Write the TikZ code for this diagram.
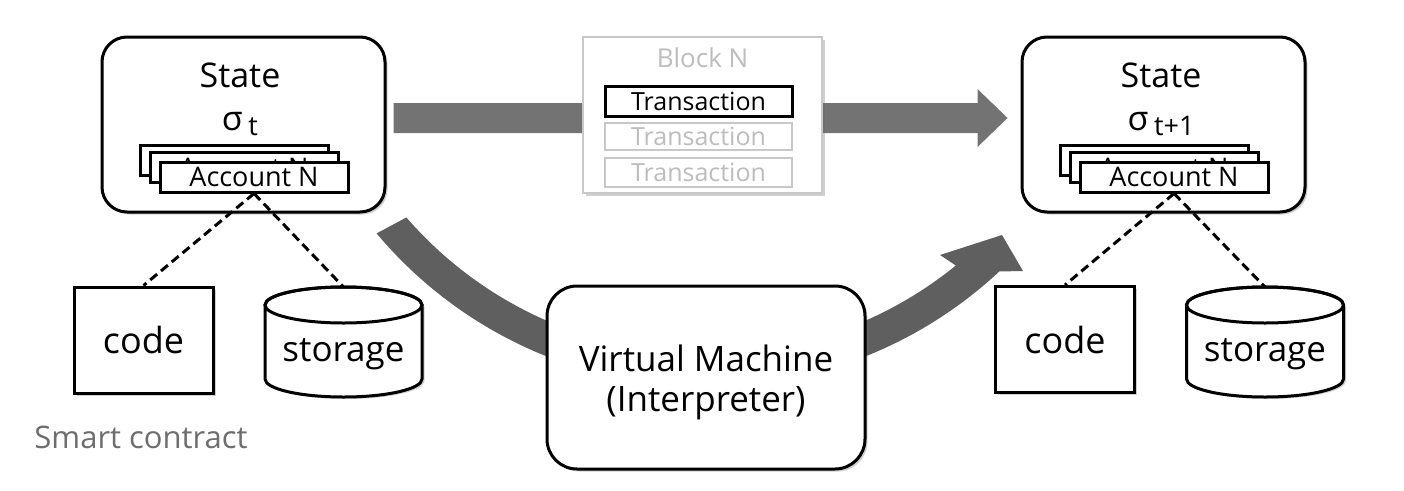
\documentclass[tikz,border=0pt]{standalone}
\usepackage{fontspec}
\setmainfont{Open Sans}
\usetikzlibrary{calc,shadows}
\definecolor{arrowA}{HTML}{737373}
\definecolor{arrowB}{HTML}{5F5F5F}
\definecolor{lgray}{HTML}{C8C8C8}
\definecolor{tgray}{HTML}{BDBDBD}
\definecolor{sgray}{HTML}{6E6E6E}
\newcommand\fs[1]{\fontsize{#1}{#1}\selectfont}
\begin{document}
\begin{tikzpicture}[x=1pt,y=1pt,
  shad/.style={drop shadow={shadow xshift=2.5pt,shadow yshift=-2.5pt,opacity=0.3,fill=black!60}},
  box/.style={draw, line width=3pt, fill=white, inner sep=0pt},
  sbox/.style={box, shad, rounded corners=25pt, minimum width=283pt, minimum height=175pt},
  card/.style={box, minimum width=188pt, minimum height=30pt, font=\fs{27}},
  codebox/.style={box, shad, minimum width=139pt, minimum height=106pt, font=\fs{36}},
  cyltext/.style={inner sep=0pt, font=\fs{35}},
  vmbox/.style={box, shad, rounded corners=30pt, minimum width=318pt, minimum height=183pt},
  blockbox/.style={draw=lgray, line width=2pt, fill=white, inner sep=0pt, minimum width=239pt, minimum height=156pt, shad},
  tx/.style={inner sep=0pt, minimum width=187pt, font=\fs{25}},
  dashln/.style={draw, line width=3pt, dash pattern=on 9pt off 5pt},
  title/.style={font=\fs{34}, inner sep=0pt}
]
\fill[white] (0,0) rectangle (1404,-490);
\useasboundingbox (0,0) rectangle (1404,-490);

% state boxes
\node[sbox] (stateL) at (243.5,-124.5) {};
\node[sbox] (stateR) at (1163.5,-124.5) {};

% straight arrow (behind block)
\coordinate (a0) at ([shift={(7,6.5)}]stateL.east);
\coordinate (a1) at ([shift={(-13,6.5)}]stateR.west);
\fill[arrowA] ($(a0)+(0,15)$) -- ($(a1)+(-30,15)$) -- ($(a1)+(-30,29)$) -- (a1)
  -- ($(a1)+(-30,-29)$) -- ($(a1)+(-30,-15)$) -- ($(a0)+(0,-15)$) -- cycle;

% block
\node[blockbox] (block) at (702.5,-115) {};
\node[font=\fs{26}, text=tgray, inner sep=0pt] (blockt) at ([yshift=-22pt]block.north) {Block N};
\node[tx, draw, line width=3pt, minimum height=30pt] (tx1) at (698.5,-101) {Transaction};
\node[tx, draw=lgray, line width=2.5pt, minimum height=27pt, text=tgray] (tx2) at (698.5,-136.5) {Transaction};
\node[tx, draw=lgray, line width=2.5pt, minimum height=29pt, text=tgray] (tx3) at (698.5,-172.5) {Transaction};

% state contents
\node[title] (stLt) at (240,-75) {State};
\node[title] (sgL) at (240,-124) {σ\,\raisebox{-5pt}{\fs{27}t}};
\node[card] (accL3) at (234,-160) {};
\node[card] (accL2) at (244,-167.5) {Account N};
\node[card] (accL) at (254,-177) {Account N};

\node[title] (stRt) at (1161,-75) {State};
\node[title] (sgR) at (1161,-124) {σ\,\raisebox{-5pt}{\fs{27}t+1}};
\node[card] (accR3) at (1154,-160) {};
\node[card] (accR2) at (1164,-167.5) {Account N};
\node[card] (accR) at (1174,-177) {Account N};

% code boxes
\node[codebox] (codeL) at (143.5,-340) {code};
\node[codebox] (codeR) at (1065,-339.5) {code};

% storage cylinders
\foreach \cx in {343.5, 1265}{
  \fill[black!60, opacity=0.3] (\cx-76,-307) -- (\cx-76,-381) arc[start angle=180,end angle=360,x radius=78.5,y radius=18] -- (\cx+81,-307) -- cycle;
  \draw[line width=3pt, fill=white] (\cx-78.5,-305) -- (\cx-78.5,-379)
     arc[start angle=180,end angle=360,x radius=78.5,y radius=18]
     -- (\cx+78.5,-305) arc[start angle=0,end angle=180,x radius=78.5,y radius=18] -- cycle;
  \draw[line width=3pt] (\cx,-305) ellipse[x radius=78.5,y radius=18];
}
\coordinate (storL) at (343.5,-287);
\coordinate (storR) at (1265,-287);
\node[cyltext] (storLt) at (343.5,-354) {storage};
\node[cyltext] (storRt) at (1265,-354) {storage};

% dashed connectors
\draw[dashln] (accL.south) -- (codeL.north);
\draw[dashln] (accL.south) -- (storL);
\draw[dashln] (accR.south) -- (storR);
\draw[dashln] (accR.south) -- (codeR.north);

% curved arrow (behind vm)
\coordinate (C) at (706,43);
\fill[arrowB] ($(C)+(221:397)$) arc[start angle=221, end angle=309, radius=397]
  -- (940,-255) -- (1002,-235) -- (1023,-271) -- ($(C)+(313:430)$)
  arc[start angle=313, end angle=220, radius=430] -- cycle;

% VM
\node[vmbox] (vm) at (706,-377.5) {};
\node[font=\fontsize{35}{40}\selectfont, align=center, inner sep=0pt] (vmt) at (706,-382) {Virtual Machine\\(Interpreter)};

\node[font=\fs{31}, text=sgray, inner sep=0pt] (smart) at (141,-437) {Smart contract};
\end{tikzpicture}
\end{document}
